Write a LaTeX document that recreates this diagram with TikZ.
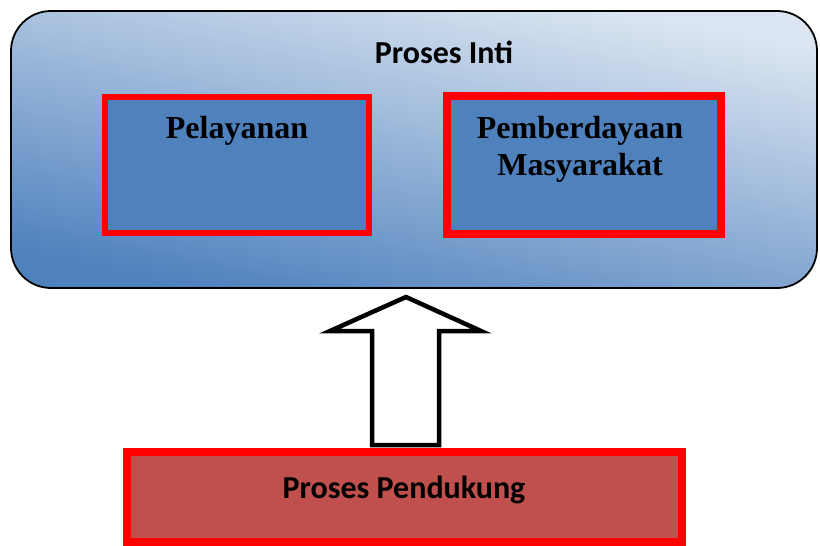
\documentclass[tikz,border=0pt]{standalone}
\usepackage{fontspec}
\setmainfont{Liberation Serif}
\newfontfamily\calibri{Carlito}
\usetikzlibrary{calc}
\definecolor{boxblue}{HTML}{4F81BD}
\definecolor{lightblue}{HTML}{DCE6F2}
\definecolor{boxred}{HTML}{C0504D}
\tikzset{
  outerbox/.style={draw=black, line width=1.8pt, rounded corners=40pt, rectangle,
    top color=lightblue, bottom color=boxblue, shading angle=-12, inner sep=0pt},
  bluebox/.style={draw=red, fill=boxblue, rectangle, inner sep=0pt},
  redbox/.style={draw=red, fill=boxred, line width=7.5pt, rectangle, inner sep=0pt},
  serifbold/.style={font=\fontsize{32}{37}\selectfont\bfseries, inner sep=0pt},
  sansbold/.style={font=\calibri\fontsize{32}{38}\selectfont\bfseries, inner sep=0pt},
  blockarrow/.style={draw=black, fill=white, line width=4.5pt, line join=miter}
}
\begin{document}
\begin{tikzpicture}[x=1pt,y=-1pt]
\useasboundingbox (0,0) rectangle (820,546);
\node[outerbox, minimum width=806pt, minimum height=277pt] (inti) at (414,149.5) {};
\node[bluebox, line width=6pt, minimum width=264pt, minimum height=136pt] (pel) at (237,165) {};
\node[bluebox, line width=7.5pt, minimum width=274pt, minimum height=138pt] (pem) at (584,165) {};
\node[redbox, minimum width=555pt, minimum height=90pt] (pend) at (404.5,497) {};
\node[sansbold, anchor=base] (intit) at (444,63) {Proses Inti};
\node[serifbold, anchor=base] (pelt) at (237,138) {Pelayanan};
\node[serifbold, anchor=base, align=center] (pemt) at (580,175) {Pemberdayaan\\Masyarakat};
\node[sansbold, anchor=base] (pendt) at (404,498) {Proses Pendukung};
\draw[blockarrow] (372,445) -- (372,331) -- (330,331) -- (406,297) -- (481,331) -- (439,331) -- (439,445) -- cycle;
\end{tikzpicture}
\end{document}
